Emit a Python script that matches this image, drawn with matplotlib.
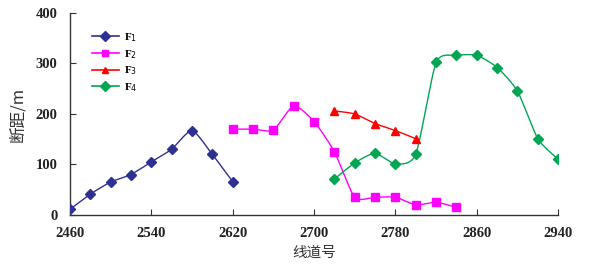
import numpy as np
import matplotlib
matplotlib.use("Agg")
import matplotlib.pyplot as plt
from matplotlib.lines import Line2D

x1 = [2460, 2480, 2500, 2520, 2540, 2560, 2580, 2600, 2620]
f1 = [11, 41, 65, 80, 105, 130, 167, 120, 66]
x2 = [2620, 2640, 2660, 2680, 2700, 2720, 2740, 2760, 2780, 2800, 2820, 2840]
f2 = [170, 170, 168, 216, 185, 125, 35, 35, 35, 20, 25, 15]
x3 = [2720, 2740, 2760, 2780, 2800]
f3 = [206, 200, 181, 167, 151]
x4 = [2720, 2740, 2760, 2780, 2800, 2820, 2840, 2860, 2880, 2900, 2920, 2940]
f4 = [71, 103, 122, 101, 120, 302, 316, 316, 292, 245, 151, 110]
labels = [r'F$_1$', r'F$_2$', r'F$_3$', r'F$_4$']
xticks = [2460, 2540, 2620, 2700, 2780, 2860, 2940]
yticks = [0, 100, 200, 300, 400]


def smooth(x, y, n=20, t=0.11):
    # Bezier smoothing (Excel-like) through the data points, for drawing only
    x = np.asarray(x, float); y = np.asarray(y, float)
    px, py = [], []
    for i in range(len(x) - 1):
        p0 = (x[i - 1], y[i - 1]) if i > 0 else (x[i], y[i])
        p1 = (x[i], y[i]); p2 = (x[i + 1], y[i + 1])
        p3 = (x[i + 2], y[i + 2]) if i + 2 < len(x) else (x[i + 1], y[i + 1])
        c1 = (p1[0] + (p2[0] - p0[0]) * t, p1[1] + (p2[1] - p0[1]) * t)
        c2 = (p2[0] - (p3[0] - p1[0]) * t, p2[1] - (p3[1] - p1[1]) * t)
        s = np.linspace(0, 1, n, endpoint=(i == len(x) - 2))
        for a, b in ((px, 0), (py, 1)):
            a.extend((1 - s) ** 3 * p1[b] + 3 * (1 - s) ** 2 * s * c1[b]
                     + 3 * (1 - s) * s ** 2 * c2[b] + s ** 3 * p2[b])
    return px, py


fig = plt.figure(figsize=(5.97, 2.71), dpi=100)
ax = fig.add_axes([0.117, 0.207, 0.818, 0.745])

series = [
    (x1, f1, '#2E3192', 'D', 5.5),
    (x2, f2, '#FF00FF', 's', 5.5),
    (x3, f3, '#FF0000', '^', 6),
    (x4, f4, '#00A651', 'D', 5.5),
]
handles = []
for (x, y, c, m, ms), lab in zip(series, labels):
    sx, sy = smooth(x, y)
    ax.plot(sx, sy, color=c, lw=1.0, zorder=2)
    ax.plot(x, y, ls='none', marker=m, color=c, ms=ms, zorder=3)
    handles.append(Line2D([], [], color=c, lw=1.2, marker=m, ms=5, alpha=1))

ax.set_xlim(2460, 2940)
ax.set_ylim(0, 400)
ax.set_xticks(xticks)
ax.set_yticks(yticks)
for s in ['top', 'right']:
    ax.spines[s].set_visible(False)
for s in ['left', 'bottom']:
    ax.spines[s].set_color('#333333')
    ax.spines[s].set_linewidth(1.0)
ax.tick_params(direction='in', length=4, color='#333333', labelsize=10.5)
ax.tick_params(axis='x', pad=9)
ax.tick_params(axis='y', pad=9)
for lab in ax.get_xticklabels() + ax.get_yticklabels():
    lab.set_fontfamily('Liberation Serif')
    lab.set_fontweight('bold')
    lab.set_color('#222222')

ax.set_xlabel('线道号', family=['Noto Sans CJK SC', 'DejaVu Sans'], fontsize=10.5, color='#333333', labelpad=4)
ax.set_ylabel('断距/m', family=['Noto Sans CJK SC', 'DejaVu Sans'], fontsize=12, color='#333333', labelpad=7)

leg = ax.legend(handles, labels, loc='upper left', bbox_to_anchor=(0.025, 0.96), frameon=False,
                prop={'family': 'Liberation Serif', 'size': 8, 'weight': 'bold'},
                handlelength=2.4, labelspacing=0.35, handletextpad=0.5)

fig.savefig('out.png', dpi=100)
